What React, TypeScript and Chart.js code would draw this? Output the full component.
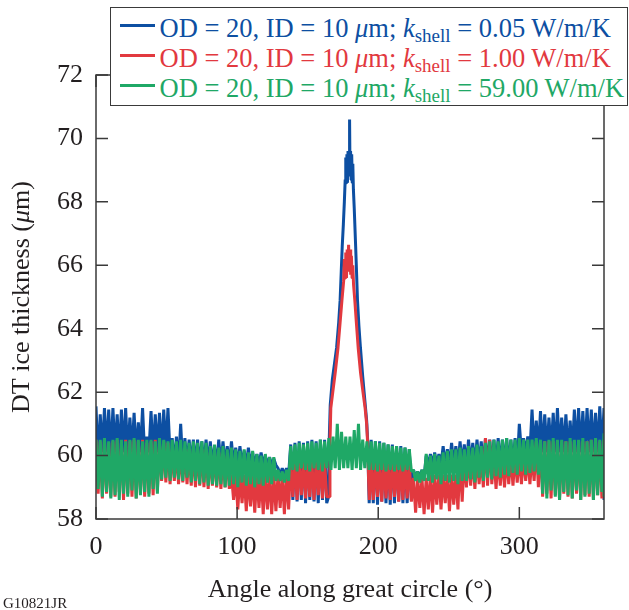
import React, { useEffect, useRef } from 'react';
import { Chart, registerables } from 'chart.js';

Chart.register(...registerables);

const FONT = "'Liberation Serif', 'Times New Roman', serif";
const TEXT = '#231f20';
const FRAME = '#3a3a3a';

const BLUE = '#0d4fa2';
const RED = '#e2393f';
const GREEN = '#1fa866';

const X_TICKS = [0, 100, 200, 300];
const Y_TICKS = [58, 60, 62, 64, 66, 68, 70, 72];
const X_TITLE = 'Angle along great circle (°)';
const LEGEND_K = ['0.05', '1.00', '59.00'];
const LEGEND_COLORS = [BLUE, RED, GREEN];

// sampling angles of the noisy band (degrees); upper value read at the angle, lower one half a step later
const ANGLES = [
  0, 3, 6, 9, 12, 15, 18, 21, 24, 27, 30, 33, 36, 39, 42, 45, 48, 51, 54, 57,
  60, 63, 66, 69, 72, 75, 78, 81, 84, 87, 90, 93, 96, 99, 102, 105, 108, 111, 114, 117,
  120, 123, 126, 129, 132, 135, 138, 141, 144, 147, 150, 153, 156, 159, 162, 165, 168, 171, 174, 177,
  180, 183, 186, 189, 192, 195, 198, 201, 204, 207, 210, 213, 216, 219, 222, 225, 228, 231, 234, 237,
  240, 243, 246, 249, 252, 255, 258, 261, 264, 267, 270, 273, 276, 279, 282, 285, 288, 291, 294, 297,
  300, 303, 306, 309, 312, 315, 318, 321, 324, 327, 330, 333, 336, 339, 342, 345, 348, 351, 354, 357,
  360,
];

const N = null;

// k_shell = 0.05 W/m/K
const BLUE_HI = [
  61.55, 61.3, 61.5, 61.45, 61.5, 61.3, 61.45, 61.5, 61.2, 61.35,
  61.05, 61.5, 60.6, 61.4, 61.3, 61.35, 61.45, 61.5, 60.55, 60.6,
  61.0, 60.55, 60.5, 60.5, 60.5, 60.45, 60.5, 60.45, 60.3, 60.5,
  60.45, 60.3, 60.45, 60.25, 60.3, 60.15, 60.25, 60.1, 60.05, 60.1,
  60.0, 59.95, 59.9, 59.6, 59.6, 59.6, 60.35, 60.4, 60.45, 60.4,
  60.45, 60.5, 60.45, 60.5, 60.5, N, N, N, N, N,
  N, N, N, N, N, 60.5, 60.45, 60.45, 60.4, 60.35,
  60.35, 60.3, 60.3, 60.25, 60.2, 59.55, 59.5, 59.55, 60.0, 60.05,
  60.1, 60.05, 60.3, 60.2, 60.4, 60.3, 60.45, 60.35, 60.5, 60.4,
  60.5, 60.45, 60.55, 60.5, 60.5, 60.55, 60.5, 60.55, 60.5, 60.55,
  61.0, 60.55, 60.6, 61.45, 61.1, 61.4, 61.3, 61.2, 61.35, 61.5,
  61.2, 61.3, 61.1, 61.45, 61.5, 61.4, 61.5, 61.45, 61.35, 61.55,
  61.5,
];
const BLUE_LO = [
  59.8, 60.1, 60.1, 60.0, 60.1, 60.0, 60.1, 60.0, 60.1, 60.0,
  60.1, 60.0, 60.1, 60.0, 60.1, 60.0, 60.1, 60.0, 59.7, 59.7,
  59.7, 59.7, 59.7, 59.7, 59.7, 59.7, 59.7, 59.7, 59.7, 59.7,
  59.7, 59.7, 59.7, 59.7, 59.7, 59.7, 59.7, 59.7, 59.7, 59.7,
  59.7, 59.7, 59.7, 59.4, 59.4, 59.4, 58.6, 58.55, 58.6, 58.5,
  58.6, 58.55, 58.5, 58.6, 58.5, N, N, N, N, N,
  N, N, N, N, N, 58.5, 58.45, 58.55, 58.5, 58.45,
  58.5, 58.55, 58.5, 58.5, 58.6, 59.3, 59.3, 59.3, 59.7, 59.7,
  59.7, 59.7, 59.7, 59.7, 59.7, 59.7, 59.7, 59.7, 59.7, 59.7,
  59.7, 59.7, 59.7, 59.7, 59.7, 59.7, 59.7, 59.7, 59.7, 59.7,
  60.1, 60.1, 60.1, 60.1, 60.1, 60.1, 60.1, 60.1, 60.1, 60.1,
  60.1, 60.1, 60.1, 60.1, 60.1, 60.1, 60.1, 60.1, 60.1, 60.1,
  58.6,
];
const BLUE_PEAK_ANGLES = [
  164.8, 165.3, 166.0, 167.5, 169.0, 170.5, 172.0, 173.0, 173.8, 174.5,
  175.3, 176.0, 176.6, 177.0, 177.4, 177.8, 178.2, 178.6, 179.0, 179.4,
  179.7, 180.0, 180.4, 180.8, 181.2, 181.6, 182.0, 182.4, 183.0, 184.0,
  184.7, 185.3, 186.3, 187.4, 189.0, 190.6, 191.8, 192.6, 193.1, 193.6,
];
const BLUE_PEAK_VALUES = [
  58.7, 60.5, 61.6, 62.4, 62.9, 63.4, 64.2, 64.9, 65.8, 66.6,
  67.3, 68.0, 68.7, 69.4, 68.6, 69.5, 68.6, 69.6, 68.8, 69.6,
  70.6, 69.0, 69.6, 68.7, 69.5, 68.6, 69.2, 68.4, 67.8, 66.6,
  65.7, 64.9, 64.1, 63.4, 62.5, 61.7, 61.1, 60.4, 59.3, 58.5,
];

// k_shell = 1.00 W/m/K
const RED_HI = [
  60.5, 60.45, 60.5, 60.4, 60.45, 60.5, 60.4, 60.5, 60.45, 60.5,
  60.45, 60.5, 60.4, 60.45, 60.5, 60.4, 60.45, 60.4, 60.2, 60.2,
  60.2, 60.2, 60.2, 60.2, 60.2, 60.2, 60.2, 60.1, 60.1, 60.1,
  60.0, 60.0, 59.4, 59.4, 59.4, 59.4, 59.4, 59.4, 59.4, 59.4,
  59.4, 59.4, 59.4, 59.4, 59.4, 59.4, 59.8, 59.8, 59.8, 59.8,
  59.8, 59.8, 59.8, 59.8, 59.8, N, N, N, N, N,
  N, N, N, N, N, 59.8, 59.8, 59.8, 59.8, 59.8,
  59.8, 59.8, 59.8, 59.8, 59.8, 59.3, 59.3, 59.3, 59.3, 59.4,
  59.4, 59.4, 59.4, 59.4, 59.4, 59.4, 60.0, 60.0, 60.0, 60.0,
  60.0, 60.0, 60.55, 60.5, 60.0, 60.0, 60.0, 60.0, 60.0, 60.0,
  60.0, 60.0, 60.0, 60.0, 60.45, 60.45, 60.45, 60.45, 60.45, 60.45,
  60.45, 60.45, 60.45, 60.45, 60.45, 60.45, 60.45, 60.5, 60.55, 60.45,
  60.5,
];
const RED_LO = [
  58.8, 58.65, 58.8, 58.7, 58.7, 58.85, 58.6, 58.8, 58.7, 58.65,
  58.8, 58.7, 58.8, 58.75, 58.9, 59.2, 59.15, 59.1, 59.2, 59.1,
  59.15, 59.1, 59.05, 59.0, 59.05, 59.0, 58.95, 59.05, 59.0, 58.95,
  59.0, 58.95, 58.6, 58.3, 58.5, 58.25, 58.4, 58.2, 58.35, 58.15,
  58.3, 58.15, 58.25, 58.35, 58.15, 58.3, 58.7, 58.6, 58.75, 58.65,
  58.7, 58.6, 58.75, 58.65, 58.7, N, N, N, N, N,
  N, N, N, N, N, 58.6, 58.7, 58.55, 58.65, 58.6,
  58.7, 58.55, 58.6, 58.65, 58.55, 58.2, 58.35, 58.15, 58.3, 58.2,
  58.45, 58.3, 58.5, 58.25, 58.45, 58.3, 58.55, 59.0, 59.05, 58.95,
  59.1, 59.0, 59.05, 59.1, 58.95, 59.05, 59.0, 59.1, 59.05, 59.15,
  59.1, 59.2, 59.1, 59.2, 59.0, 58.7, 58.8, 58.65, 58.75, 58.6,
  58.8, 58.7, 58.65, 58.8, 58.6, 58.75, 58.7, 58.6, 58.75, 58.65,
  58.8,
];
const RED_PEAK_ANGLES = [
  165.2, 165.8, 166.4, 167.8, 169.5, 171.5, 173.0, 174.3, 175.5, 176.0,
  176.5, 177.0, 177.5, 178.0, 178.5, 179.0, 179.5, 180.0, 180.5, 181.0,
  181.5, 182.0, 182.5, 183.4, 184.5, 185.8, 187.5, 189.2, 190.7, 191.8,
  192.6, 193.2, 193.7,
];
const RED_PEAK_VALUES = [
  58.7, 60.4, 61.5, 62.0, 62.6, 63.4, 64.2, 64.9, 65.5, 66.2,
  65.6, 66.4, 65.6, 66.5, 65.8, 66.65, 65.8, 66.5, 65.7, 66.3,
  65.6, 66.0, 65.4, 64.9, 64.2, 63.4, 62.6, 62.0, 61.5, 61.0,
  60.3, 59.2, 58.6,
];

// k_shell = 59.00 W/m/K
const GREEN_HI = [
  60.5, 60.5, 60.55, 60.45, 60.5, 60.55, 60.5, 60.45, 60.5, 60.55,
  60.5, 60.45, 60.5, 60.5, 60.45, 60.55, 60.5, 60.45, 60.5, 60.45,
  60.5, 60.45, 60.4, 60.45, 60.4, 60.45, 60.4, 60.3, 60.35, 60.25,
  60.3, 60.2, 60.25, 60.2, 60.15, 60.2, 60.1, 60.15, 60.05, 60.0,
  60.05, 59.95, 59.95, 59.55, 59.5, 59.55, 60.3, 60.35, 60.4, 60.35,
  60.4, 60.45, 60.4, 60.5, 60.45, 60.55, 60.6, 61.0, 60.75, 60.6,
  60.6, 60.8, 61.0, 60.5, 60.45, 60.45, 60.45, 60.4, 60.4, 60.35,
  60.3, 60.3, 60.25, 60.25, 60.2, 59.55, 59.5, 59.55, 60.05, 60.0,
  60.05, 60.0, 60.1, 60.15, 60.2, 60.2, 60.25, 60.2, 60.3, 60.25,
  60.35, 60.3, 60.4, 60.45, 60.5, 60.45, 60.5, 60.55, 60.5, 60.5,
  60.55, 60.5, 60.5, 60.5, 60.55, 60.5, 60.45, 60.5, 60.55, 60.5,
  60.5, 60.45, 60.55, 60.5, 60.5, 60.55, 60.45, 60.5, 60.55, 60.5,
  60.7,
];
const GREEN_LO = [
  58.95, 58.7, 58.85, 58.65, 58.75, 58.6, 58.8, 58.7, 58.9, 58.65,
  58.75, 58.85, 58.7, 58.95, 58.8, 59.25, 59.3, 59.2, 59.3, 59.25,
  59.2, 59.3, 59.15, 59.2, 59.1, 59.15, 59.05, 59.1, 59.05, 59.1,
  59.0, 59.05, 59.1, 59.0, 59.15, 59.05, 59.1, 59.0, 59.1, 59.05,
  59.15, 59.1, 59.2, 59.2, 59.15, 59.2, 59.55, 59.5, 59.6, 59.55,
  59.5, 59.6, 59.55, 59.5, 59.6, 59.55, 59.6, 59.55, 59.6, 59.6,
  59.55, 59.6, 59.55, 59.6, 59.55, 59.55, 59.5, 59.55, 59.5, 59.55,
  59.5, 59.55, 59.5, 59.55, 59.5, 59.2, 59.15, 59.2, 59.2, 59.15,
  59.25, 59.1, 59.2, 59.15, 59.2, 59.1, 59.2, 59.2, 59.25, 59.15,
  59.3, 59.2, 59.3, 59.25, 59.35, 59.3, 59.4, 59.35, 59.45, 59.4,
  59.5, 59.4, 59.45, 59.5, 59.4, 58.8, 58.65, 58.9, 58.7, 58.6,
  58.85, 58.75, 58.65, 58.9, 58.6, 58.7, 58.8, 58.6, 58.75, 58.85,
  58.7,
];

type Pt = { x: number; y: number };

function buildSeries(hi: (number | null)[], lo: (number | null)[], peakA?: number[], peakV?: number[]): Pt[] {
  const pts: Pt[] = [];
  let peakDone = false;
  ANGLES.forEach((a, i) => {
    const h = hi[i];
    const l = lo[i];
    if (h == null || l == null) {
      if (!peakDone && peakA && peakV) {
        peakA.forEach((x, j) => pts.push({ x, y: peakV[j] }));
        peakDone = true;
      }
      return;
    }
    pts.push({ x: a, y: h });
    pts.push({ x: Math.min(a + 1.5, 360), y: l });
  });
  return pts;
}

const framePlugin = {
  id: 'frame',
  afterDatasetsDraw(chart: any) {
    const { ctx, chartArea } = chart;
    const { left, right, top, bottom } = chartArea;
    const xs = chart.scales.x;
    const ys = chart.scales.y;
    ctx.save();
    ctx.strokeStyle = FRAME;
    ctx.lineWidth = 1.5;
    ctx.strokeRect(left, top, right - left, bottom - top);
    ctx.beginPath();
    Y_TICKS.forEach((v) => {
      const y = ys.getPixelForValue(v);
      ctx.moveTo(left, y);
      ctx.lineTo(left + 12, y);
      ctx.moveTo(right, y);
      ctx.lineTo(right - 12, y);
    });
    X_TICKS.forEach((v) => {
      const x = xs.getPixelForValue(v);
      ctx.moveTo(x, bottom);
      ctx.lineTo(x, bottom - 12);
      ctx.moveTo(x, top);
      ctx.lineTo(x, top + 12);
    });
    ctx.stroke();
    ctx.restore();
  },
};

const yTitlePlugin = {
  id: 'yTitle',
  afterDraw(chart: any) {
    const { ctx, chartArea } = chart;
    const parts: [string, string][] = [
      ['DT ice thickness (', 'normal'],
      ['\u03bc', 'italic'],
      ['m)', 'normal'],
    ];
    ctx.save();
    ctx.translate(22, (chartArea.top + chartArea.bottom) / 2);
    ctx.rotate(-Math.PI / 2);
    ctx.textBaseline = 'middle';
    ctx.textAlign = 'left';
    ctx.fillStyle = TEXT;
    const widths = parts.map(([t, s]) => {
      ctx.font = `${s} 26px ${FONT}`;
      return ctx.measureText(t).width;
    });
    let x = -widths.reduce((a, b) => a + b, 0) / 2;
    parts.forEach(([t, s], i) => {
      ctx.font = `${s} 26px ${FONT}`;
      ctx.fillText(t, x, 0);
      x += widths[i];
    });
    ctx.restore();
  },
};

export default function App() {
  const ref = useRef<HTMLCanvasElement>(null);

  useEffect(() => {
    if (!ref.current) return;
    const common = {
      pointRadius: 0,
      tension: 0,
      borderJoinStyle: 'bevel' as const,
      fill: false,
    };
    const chart = new Chart(ref.current, {
      type: 'line',
      data: {
        datasets: [
          { ...common, label: 'k=0.05', data: buildSeries(BLUE_HI, BLUE_LO, BLUE_PEAK_ANGLES, BLUE_PEAK_VALUES), borderColor: BLUE, borderWidth: 3, order: 3 },
          { ...common, label: 'k=1.00', data: buildSeries(RED_HI, RED_LO, RED_PEAK_ANGLES, RED_PEAK_VALUES), borderColor: RED, borderWidth: 3, order: 2 },
          { ...common, label: 'k=59.00', data: buildSeries(GREEN_HI, GREEN_LO), borderColor: GREEN, borderWidth: 3, order: 1 },
        ],
      },
      options: {
        animation: false,
        responsive: false,
        devicePixelRatio: 1,
        layout: { padding: { left: 0, right: 25, top: 75, bottom: 0 } },
        plugins: { legend: { display: false }, tooltip: { enabled: false } },
        scales: {
          x: {
            type: 'linear',
            min: 0,
            max: 360,
            afterBuildTicks: (s: any) => {
              s.ticks = X_TICKS.map((v) => ({ value: v }));
            },
            afterFit: (s: any) => {
              s.height = 91;
            },
            grid: { display: false, drawTicks: false },
            border: { display: false },
            ticks: { padding: 13, maxRotation: 0, color: TEXT, font: { family: FONT, size: 26 } },
            title: { display: true, text: X_TITLE, color: TEXT, font: { family: FONT, size: 26 }, padding: { top: 0, bottom: 4 } },
          },
          y: {
            type: 'linear',
            min: 58,
            max: 72,
            afterBuildTicks: (s: any) => {
              s.ticks = Y_TICKS.map((v) => ({ value: v }));
            },
            afterFit: (s: any) => {
              s.width = 96;
            },
            grid: { display: false, drawTicks: false },
            border: { display: false },
            ticks: { padding: 13, color: TEXT, font: { family: FONT, size: 26 } },
          },
        },
      },
      plugins: [framePlugin, yTitlePlugin],
    });
    return () => chart.destroy();
  }, []);

  return (
    <div style={{ position: 'absolute', left: 0, top: 0, width: 629, height: 610, background: '#fff', fontFamily: FONT }}>
      <canvas ref={ref} width={629} height={610} style={{ position: 'absolute', left: 0, top: 0, width: 629, height: 610 }} />
      <div
        style={{
          position: 'absolute',
          left: 110,
          top: 7,
          width: 518,
          height: 99,
          border: `1.5px solid ${FRAME}`,
          background: '#fff',
          boxSizing: 'border-box',
        }}
      >
        {LEGEND_K.map((k, i) => (
          <div
            key={k}
            style={{
              position: 'absolute',
              left: 0,
              top: 4.5 + i * 30,
              height: 30,
              display: 'flex',
              alignItems: 'center',
              whiteSpace: 'nowrap',
              color: LEGEND_COLORS[i],
              fontSize: 26.5,
              lineHeight: '30px',
            }}
          >
            <span style={{ display: 'inline-block', width: 35, height: 3, background: LEGEND_COLORS[i], marginLeft: 8.5, marginRight: 5, marginTop: -4 }} />
            <span>
              OD = 20, ID = 10 <i>{'\u03bc'}</i>m; <i>k</i>
              <span style={{ fontSize: 19, verticalAlign: '-5px', lineHeight: 0 }}>shell</span> = {k} W/m/K
            </span>
          </div>
        ))}
      </div>
      <div style={{ position: 'absolute', left: 3, top: 595, fontSize: 15, lineHeight: '16px', color: TEXT, whiteSpace: 'nowrap' }}>
        G10821JR
      </div>
    </div>
  );
}
